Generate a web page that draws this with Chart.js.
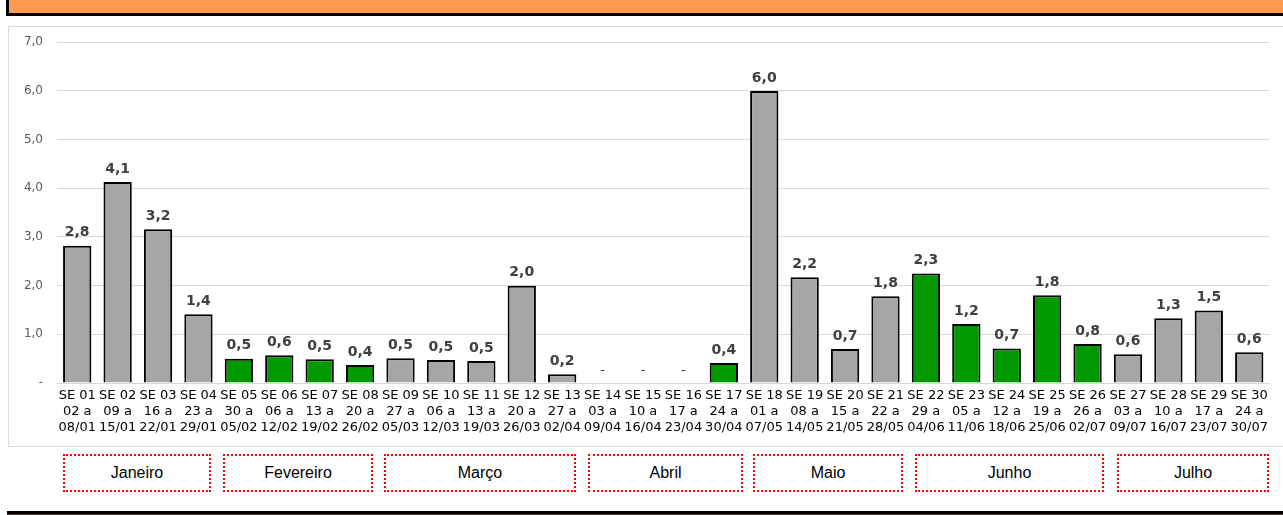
<!DOCTYPE html>
<html>
<head>
<meta charset="utf-8">
<script src="https://cdn.jsdelivr.net/npm/chart.js@4"></script>
<style>
  body { margin: 0; width: 1283px; height: 515px; background: #fff; position: relative; overflow: hidden; }
  #banner { position: absolute; left: 6px; top: -4px; width: 1290px; height: 17px; background: #FF9A4F; border-left: 3px solid #000; border-bottom: 3px solid #000; }
  #frame { position: absolute; left: 8px; top: 26px; width: 1290px; height: 419px; border: 1px solid #D9D9D9; }
  #wrap { position: absolute; left: 8px; top: 21px; width: 1265px; height: 425px; }
  .month { position: absolute; top: 454px; height: 34px; border: 2px dotted #FF0000; box-sizing: content-box;
           font: 16px "Liberation Sans", Arial, sans-serif; color: #000; display: flex; align-items: center; justify-content: center; }
  #bottom { position: absolute; left: 7px; top: 511px; width: 1290px; height: 3px; background: #000; border-bottom: 2px solid #5a3a20; }
</style>
</head>
<body>
<div id="banner"></div>
<div id="frame"></div>
<div id="wrap"><canvas id="chart"></canvas></div>
<div id="bottom"></div>
<script>
const weeks = ['SE 01','SE 02','SE 03','SE 04','SE 05','SE 06','SE 07','SE 08','SE 09','SE 10',
  'SE 11','SE 12','SE 13','SE 14','SE 15','SE 16','SE 17','SE 18','SE 19','SE 20',
  'SE 21','SE 22','SE 23','SE 24','SE 25','SE 26','SE 27','SE 28','SE 29','SE 30'];
const startDays = ['02 a','09 a','16 a','23 a','30 a','06 a','13 a','20 a','27 a','06 a',
  '13 a','20 a','27 a','03 a','10 a','17 a','24 a','01 a','08 a','15 a',
  '22 a','29 a','05 a','12 a','19 a','26 a','03 a','10 a','17 a','24 a'];
const endDates = ['08/01','15/01','22/01','29/01','05/02','12/02','19/02','26/02','05/03','12/03',
  '19/03','26/03','02/04','09/04','16/04','23/04','30/04','07/05','14/05','21/05',
  '28/05','04/06','11/06','18/06','25/06','02/07','09/07','16/07','23/07','30/07'];
const values = [2.82, 4.13, 3.16, 1.41, 0.5, 0.57, 0.49, 0.37, 0.51, 0.47,
  0.45, 2.0, 0.18, 0, 0, 0, 0.41, 6.0, 2.17, 0.7,
  1.78, 2.25, 1.21, 0.71, 1.8, 0.8, 0.59, 1.33, 1.49, 0.63];
const greenWeeks = ['SE 05','SE 06','SE 07','SE 08','SE 17','SE 22','SE 23','SE 24','SE 25','SE 26'];
const months = ['Janeiro','Fevereiro','Março','Abril','Maio','Junho','Julho'];
const monthBoxes = [[63, 211], [223, 373], [384, 576], [588, 743], [753, 903], [915, 1104], [1117, 1269]];

months.forEach((m, i) => {
  const d = document.createElement('div');
  d.className = 'month';
  d.textContent = m;
  d.style.left = monthBoxes[i][0] + 'px';
  d.style.width = (monthBoxes[i][1] - monthBoxes[i][0] - 4) + 'px';
  document.body.appendChild(d);
});

const fmt = v => v === 0 ? '-' : v.toFixed(1).replace('.', ',');

const barLabels = {
  id: 'barLabels',
  afterDatasetsDraw(chart) {
    const ctx = chart.ctx;
    const meta = chart.getDatasetMeta(0);
    ctx.save();
    ctx.textAlign = 'center';
    ctx.textBaseline = 'bottom';
    meta.data.forEach((bar, i) => {
      const v = values[i];
      ctx.fillStyle = '#404040';
      if (v === 0) {
        ctx.font = '13px "DejaVu Sans"';
        ctx.fillText('-', bar.x, bar.y - 6);
      } else {
        ctx.font = 'bold 14px "DejaVu Sans"';
        ctx.fillText(fmt(v), bar.x, bar.y - 6);
      }
    });
    ctx.restore();
  }
};

new Chart(document.getElementById('chart'), {
  type: 'bar',
  data: {
    labels: weeks.map((w, i) => [w, startDays[i], endDates[i]]),
    datasets: [{
      data: values,
      backgroundColor: weeks.map(w => greenWeeks.includes(w) ? '#009A00' : '#A6A6A6'),
      borderColor: '#000',
      borderWidth: 2,
      borderSkipped: 'bottom',
      barPercentage: 0.7,
      categoryPercentage: 1
    }]
  },
  options: {
    responsive: true,
    maintainAspectRatio: false,
    animation: false,
    layout: { padding: { top: 9, right: 2, left: 0, bottom: 0 } },
    plugins: { legend: { display: false }, tooltip: { enabled: false } },
    scales: {
      x: {
        grid: { display: false, drawTicks: false },
        border: { color: '#D9D9D9' },
        ticks: { color: '#000', font: { family: 'DejaVu Sans', size: 13, lineHeight: 1.23 }, padding: 5, maxRotation: 0, autoSkip: false },
        afterFit(scale) { scale.height = 63; }
      },
      y: {
        min: 0, max: 7,
        ticks: {
          stepSize: 1, color: '#595959', padding: 14,
          font: { family: 'DejaVu Sans', size: 12 },
          callback: v => v === 0 ? '-' : v.toFixed(1).replace('.', ',')
        },
        grid: { color: '#D9D9D9', drawTicks: false },
        border: { display: false },
        afterFit(scale) { scale.width = 49; }
      }
    }
  },
  plugins: [barLabels]
});
</script>
</body>
</html>
